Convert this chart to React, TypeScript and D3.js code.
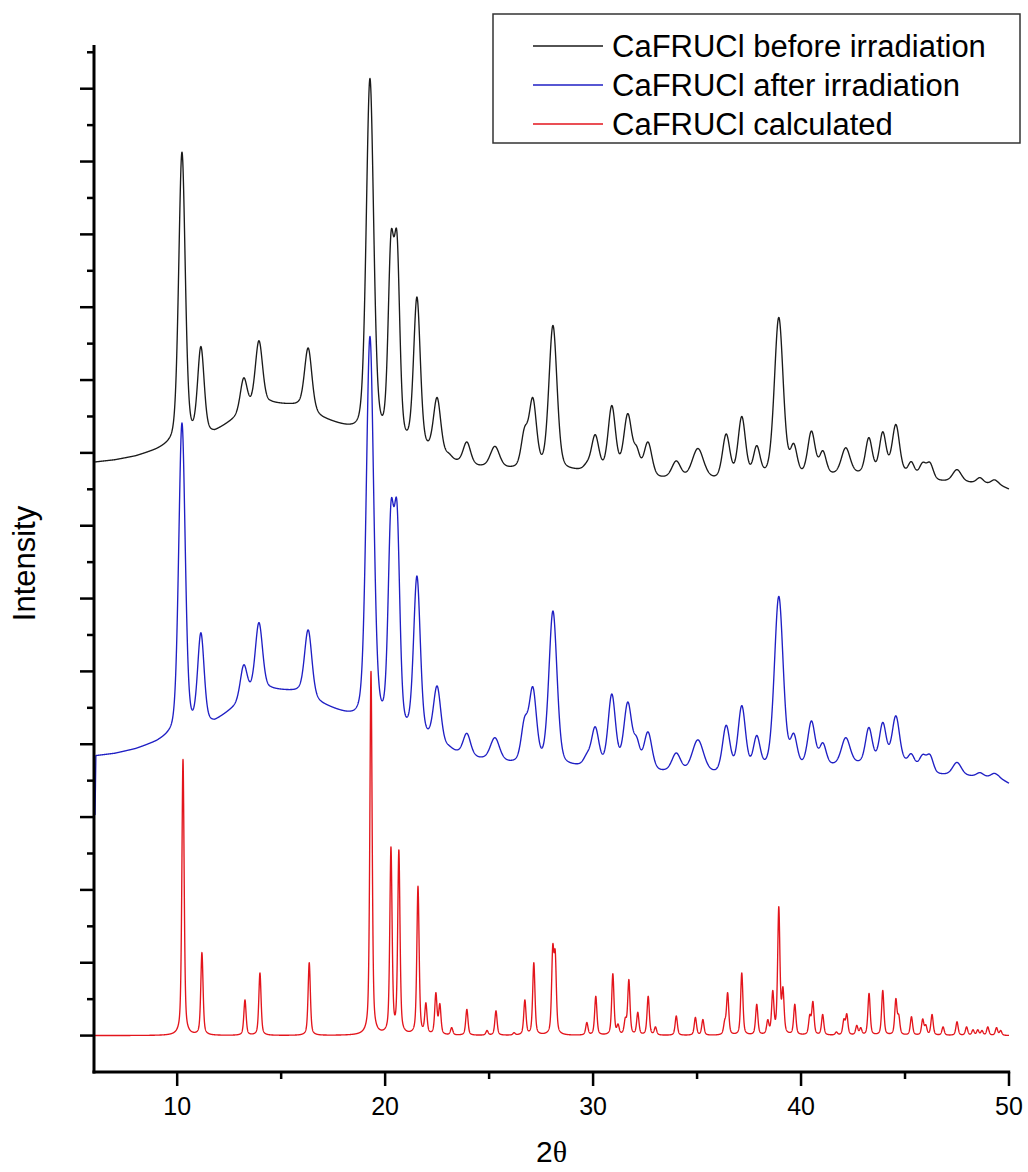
import React, { useMemo } from "react";
import * as d3 from "d3";

const WIDTH = 1028;
const HEIGHT = 1172;
const PLOT = { left: 94, right: 1009, top: 45, bottom: 1072 };

// 2θ range and intensity range (arbitrary units, one major tick per unit)
const X_DOMAIN: [number, number] = [6, 50];
const Y_DOMAIN: [number, number] = [-0.5, 13.6];

const X_MAJOR = [10, 20, 30, 40, 50];
const X_MINOR = [15, 25, 35, 45];
const Y_MAJOR = d3.range(0, 14);
const Y_MINOR = d3.range(0.5, 13.6, 1);

// Reflections seen in both measured patterns (2θ, FWHM in degrees)
const expPeakPos = [
  10.23, 11.14, 13.2, 13.93, 16.3, 19.27, 20.28, 20.57, 21.53, 22.5,
  23.05, 23.93, 25.28, 26.7, 27.1, 28.07, 29.7, 30.1, 30.9, 31.67,
  32.1, 32.64, 34.0, 35.04, 36.4, 37.15, 37.87, 38.93, 39.65, 40.5,
  41.05, 42.15, 43.26, 43.93, 44.56, 45.3, 45.85, 46.2, 47.5, 48.6, 49.3,
];
const expPeakFwhm = [
  0.37, 0.37, 0.4, 0.42, 0.42, 0.42, 0.32, 0.32, 0.38, 0.42,
  0.38, 0.42, 0.52, 0.38, 0.42, 0.46, 0.38, 0.42, 0.42, 0.45,
  0.35, 0.45, 0.5, 0.65, 0.42, 0.42, 0.38, 0.5, 0.38, 0.42,
  0.38, 0.5, 0.38, 0.38, 0.42, 0.35, 0.38, 0.38, 0.5, 0.38, 0.38,
];

// Intensity at each reflection maximum (offset stacked, a.u.)
const beforeTop = [
  12.13, 9.46, 9.03, 9.54, 9.44, 13.14, 11.02, 11.02, 10.14, 8.76,
  8.0, 8.15, 8.09, 8.35, 8.76, 9.75, 7.88, 8.25, 8.65, 8.54,
  8.09, 8.15, 7.89, 8.06, 8.26, 8.5, 8.1, 9.86, 8.13, 8.3,
  8.03, 8.07, 8.21, 8.29, 8.39, 7.88, 7.87, 7.87, 7.77, 7.66, 7.63,
];
const afterTop = [
  8.41, 5.53, 5.09, 5.67, 5.57, 9.6, 7.32, 7.32, 6.31, 4.8,
  3.99, 4.15, 4.09, 4.37, 4.79, 5.83, 3.88, 4.24, 4.69, 4.58,
  4.1, 4.17, 3.88, 4.06, 4.26, 4.53, 4.12, 6.03, 4.15, 4.32,
  4.02, 4.09, 4.23, 4.3, 4.39, 3.87, 3.86, 3.86, 3.75, 3.61, 3.6,
];

// Background (amorphous hump + baseline) of each measured pattern
const beforeBgPos = [
  6.0, 7.0, 8.0, 9.0, 9.5, 10.0, 11.8, 12.7, 13.6, 14.5, 15.8, 17.0, 18.5, 19.0,
  20.0, 21.0, 22.0, 23.0, 24.5, 26.0, 29.0, 31.5, 33.0, 36.0, 38.0, 40.0,
  42.0, 44.0, 45.0, 46.5, 48.0, 49.5, 50.0,
];
const beforeBgLevel = [
  7.87, 7.9, 7.95, 8.03, 8.08, 8.14, 8.27, 8.44, 8.58, 8.67, 8.64, 8.46, 8.29, 8.25,
  8.17, 8.08, 8.0, 7.88, 7.8, 7.77, 7.74, 7.71, 7.64, 7.62, 7.65, 7.66,
  7.69, 7.71, 7.69, 7.61, 7.59, 7.56, 7.5,
];
const afterBgPos = [
  6.0, 6.05, 6.09, 7.0, 8.0, 9.0, 9.5, 10.0, 11.8, 12.7, 13.6, 14.5, 15.8, 17.0, 18.5,
  19.0, 20.0, 21.0, 22.0, 23.0, 24.5, 26.0, 29.0, 31.5, 33.0, 36.0, 38.0,
  40.0, 42.0, 44.0, 45.0, 46.5, 48.0, 49.5, 50.0,
];
const afterBgLevel = [
  3.03, 3.03, 3.84, 3.87, 3.93, 4.02, 4.08, 4.14, 4.29, 4.48, 4.66, 4.74, 4.71, 4.53, 4.34,
  4.31, 4.22, 4.12, 4.04, 3.9, 3.79, 3.73, 3.68, 3.65, 3.61, 3.58, 3.63,
  3.66, 3.7, 3.75, 3.72, 3.58, 3.56, 3.54, 3.46,
];

// Calculated pattern: reflection positions and peak intensities
const calcPeakPos = [
  10.28, 11.19, 13.26, 13.98, 16.35, 19.32, 20.28, 20.66, 21.58, 21.96,
  22.44, 22.63, 23.2, 23.93, 24.9, 25.33, 26.2, 26.72, 27.15, 28.06,
  28.18, 29.7, 30.13, 30.95, 31.2, 31.55, 31.72, 32.15, 32.65, 33.0,
  34.0, 34.92, 35.28, 36.33, 36.47, 37.15, 37.87, 38.4, 38.64, 38.93,
  39.13, 39.7, 40.42, 40.57, 41.04, 41.7, 42.06, 42.2, 42.68, 42.87,
  43.27, 43.93, 44.56, 44.7, 45.31, 45.85, 46.0, 46.3, 46.83, 47.5,
  47.96, 48.27, 48.5, 48.7, 48.98, 49.4, 49.6,
];
const calcPeakTop = [
  3.79, 1.14, 0.49, 0.86, 1.0, 5.0, 2.59, 2.55, 2.05, 0.45,
  0.59, 0.44, 0.11, 0.36, 0.07, 0.34, 0.04, 0.49, 1.0, 1.25,
  1.17, 0.18, 0.54, 0.85, 0.16, 0.25, 0.77, 0.32, 0.54, 0.12,
  0.27, 0.25, 0.22, 0.22, 0.59, 0.86, 0.43, 0.22, 0.62, 1.77,
  0.67, 0.43, 0.29, 0.47, 0.29, 0.05, 0.23, 0.3, 0.14, 0.11,
  0.58, 0.62, 0.51, 0.29, 0.26, 0.23, 0.15, 0.29, 0.12, 0.19,
  0.12, 0.08, 0.08, 0.07, 0.12, 0.11, 0.07,
];
const CALC_FWHM = 0.13;

const SERIES_NAMES = [
  "CaFRUCl before irradiation",
  "CaFRUCl after irradiation",
  "CaFRUCl calculated",
];
const SERIES_COLORS = ["#1a1a1a", "#1f1fc4", "#e3151c"];

const FONT = "'Liberation Sans', Arial, Helvetica, sans-serif";

// pseudo-Voigt profile with unit maximum
function pseudoVoigt(x: number, x0: number, fwhm: number, eta: number) {
  const t = (x - x0) / fwhm;
  const t2 = 4 * t * t;
  return eta / (1 + t2) + (1 - eta) * Math.exp(-Math.LN2 * t2);
}

// Find peak amplitudes so that the summed profile reaches the given maxima
function solveAmplitudes(
  pos: number[],
  tops: number[],
  widths: number[],
  bg: (x: number) => number,
  eta: number
) {
  const target = pos.map((p, i) => tops[i] - bg(p));
  let amp = target.map((v) => Math.max(0, v));
  for (let iter = 0; iter < 120; iter++) {
    const next = pos.map((p, i) => {
      let overlap = 0;
      for (let j = 0; j < pos.length; j++) {
        if (j !== i) overlap += amp[j] * pseudoVoigt(p, pos[j], widths[j], eta);
      }
      return Math.max(0, target[i] - overlap);
    });
    amp = amp.map((a, i) => 0.5 * a + 0.5 * next[i]);
  }
  return amp;
}

function buildPattern(
  pos: number[],
  tops: number[],
  widths: number[],
  bg: (x: number) => number,
  eta: number,
  step: number
): [number, number][] {
  const amp = solveAmplitudes(pos, tops, widths, bg, eta);
  const xs = d3.range(X_DOMAIN[0], X_DOMAIN[1] + step / 2, step);
  return xs.map((x) => {
    let v = bg(x);
    for (let j = 0; j < pos.length; j++) {
      v += amp[j] * pseudoVoigt(x, pos[j], widths[j], eta);
    }
    return [x, v];
  });
}

export default function App() {
  const x = d3.scaleLinear().domain(X_DOMAIN).range([PLOT.left, PLOT.right]);
  const y = d3.scaleLinear().domain(Y_DOMAIN).range([PLOT.bottom, PLOT.top]);

  const series = useMemo(() => {
    const beforeBg = d3.scaleLinear().domain(beforeBgPos).range(beforeBgLevel).clamp(true);
    const afterBg = d3.scaleLinear().domain(afterBgPos).range(afterBgLevel).clamp(true);
    const before = buildPattern(expPeakPos, beforeTop, expPeakFwhm, beforeBg, 0.3, 0.01);
    const after = buildPattern(expPeakPos, afterTop, expPeakFwhm, afterBg, 0.3, 0.01);
    const calc = buildPattern(
      calcPeakPos,
      calcPeakTop,
      calcPeakPos.map(() => CALC_FWHM),
      () => 0,
      0.5,
      0.005
    );
    return [before, after, calc];
  }, []);

  const line = d3
    .line<[number, number]>()
    .x((d) => x(d[0]))
    .y((d) => y(d[1]));

  const legend = { x: 493, y: 14, w: 527, h: 129, row: 39 };

  return (
    <svg
      width={WIDTH}
      height={HEIGHT}
      style={{ position: "absolute", left: 0, top: 0, background: "#fff" }}
      fontFamily={FONT}
    >
      <rect width={WIDTH} height={HEIGHT} fill="#fff" />

      {series.map((pts, i) => (
        <path
          key={SERIES_NAMES[i]}
          d={line(pts) ?? ""}
          fill="none"
          stroke={SERIES_COLORS[i]}
          strokeWidth={1.35}
          strokeLinejoin="round"
        />
      ))}

      {/* y axis */}
      <line x1={PLOT.left} x2={PLOT.left} y1={PLOT.top} y2={PLOT.bottom + 1.5} stroke="#000" strokeWidth={3} />
      {Y_MAJOR.map((v) => (
        <line key={"ym" + v} x1={PLOT.left - 14} x2={PLOT.left} y1={y(v)} y2={y(v)} stroke="#000" strokeWidth={2.5} />
      ))}
      {Y_MINOR.map((v) => (
        <line key={"yn" + v} x1={PLOT.left - 7} x2={PLOT.left} y1={y(v)} y2={y(v)} stroke="#000" strokeWidth={2.5} />
      ))}

      {/* x axis */}
      <line x1={PLOT.left - 1.5} x2={PLOT.right + 1.2} y1={PLOT.bottom} y2={PLOT.bottom} stroke="#000" strokeWidth={3} />
      {X_MAJOR.map((v) => (
        <g key={"xm" + v}>
          <line x1={x(v)} x2={x(v)} y1={PLOT.bottom} y2={PLOT.bottom + 14} stroke="#000" strokeWidth={2.5} />
          <text x={x(v)} y={1115} textAnchor="middle" fontSize={25} fill="#000">
            {v}
          </text>
        </g>
      ))}
      {X_MINOR.map((v) => (
        <line key={"xn" + v} x1={x(v)} x2={x(v)} y1={PLOT.bottom} y2={PLOT.bottom + 7} stroke="#000" strokeWidth={2.5} />
      ))}

      {/* axis titles */}
      <text x={(PLOT.left + PLOT.right) / 2} y={1162} textAnchor="middle" fontSize={30} fill="#000">
        2<tspan fontFamily="'Liberation Serif', 'DejaVu Serif', serif">θ</tspan>
      </text>
      <text
        transform={`translate(35, ${(PLOT.top + PLOT.bottom) / 2 + 5}) rotate(-90)`}
        textAnchor="middle"
        fontSize={31}
        fill="#000"
      >
        Intensity
      </text>

      {/* legend */}
      <rect x={legend.x} y={legend.y} width={legend.w} height={legend.h} fill="#fff" stroke="#333" strokeWidth={1.5} />
      {SERIES_NAMES.map((name, i) => {
        const cy = legend.y + 32 + i * legend.row;
        return (
          <g key={name}>
            <line x1={533} x2={603} y1={cy} y2={cy} stroke={SERIES_COLORS[i]} strokeWidth={1.3} />
            <text x={612} y={cy + 11} fontSize={31} fill="#000">
              {name}
            </text>
          </g>
        );
      })}
    </svg>
  );
}
